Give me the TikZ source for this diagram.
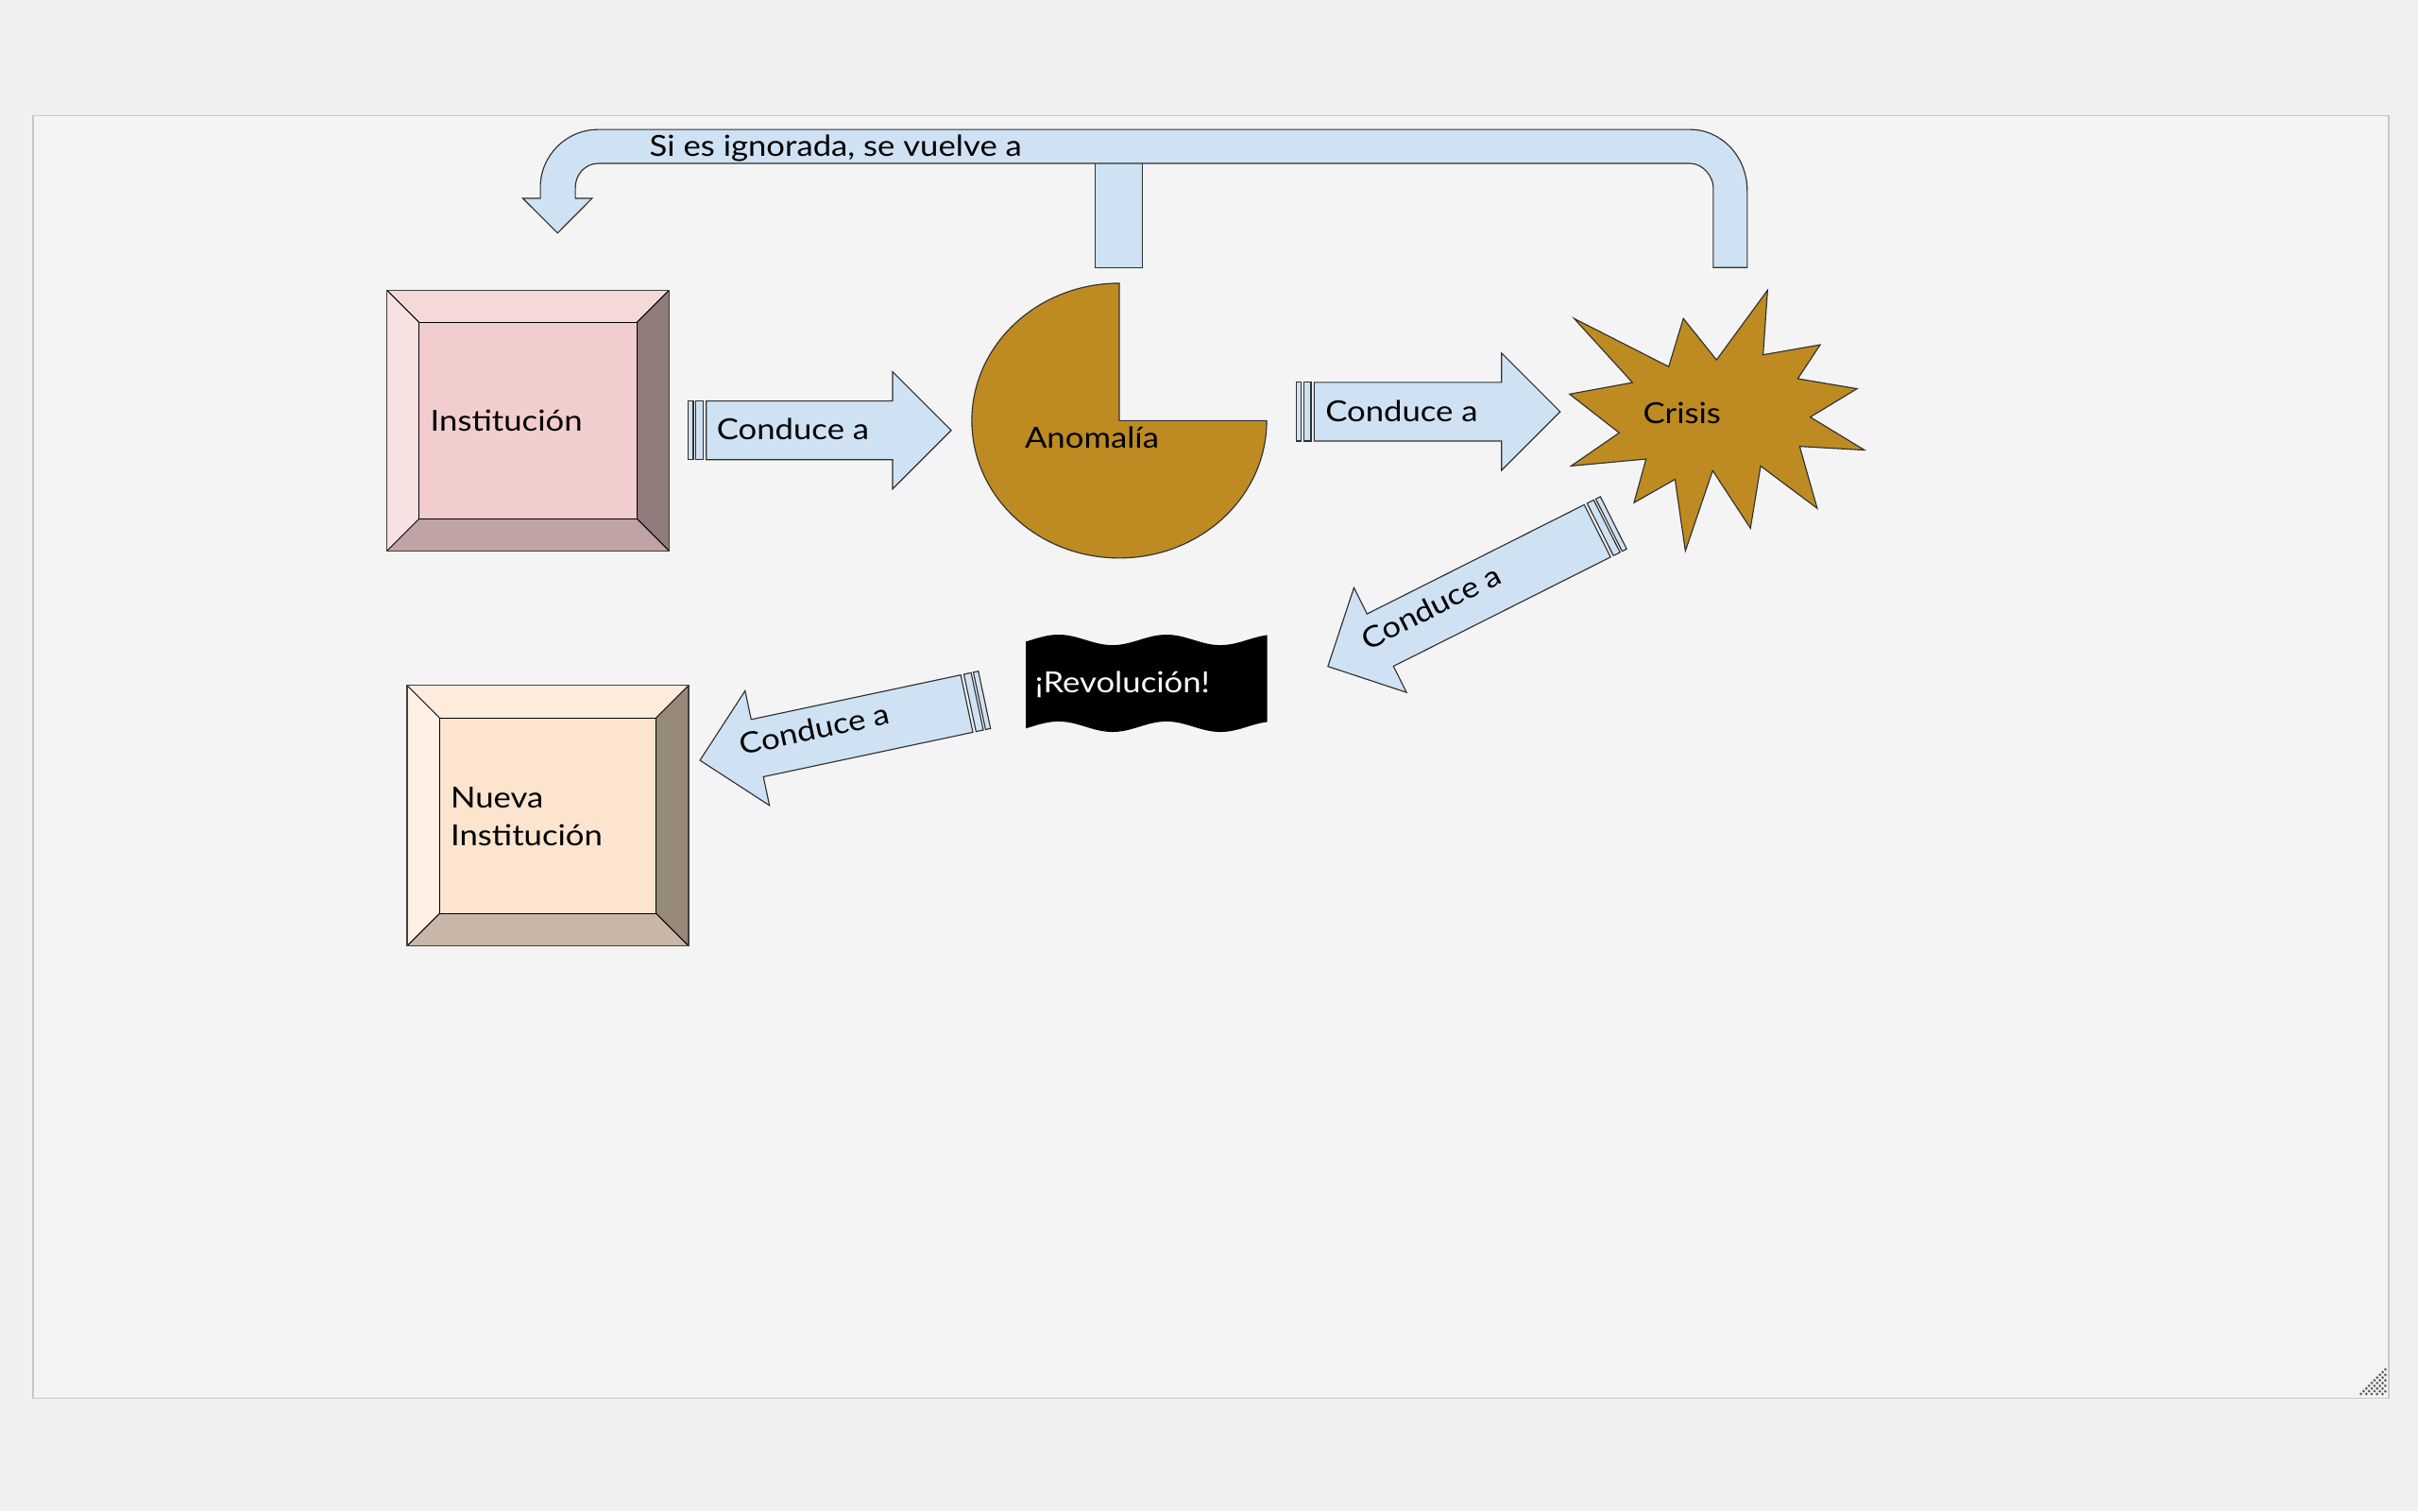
\documentclass[tikz,border=0pt]{standalone}
\usepackage{fontspec}
\setmainfont{Lato}[FakeStretch=1.13]
\usetikzlibrary{calc}

\definecolor{pagebg}{HTML}{F0F0F0}
\definecolor{panelbg}{HTML}{F4F4F4}
\definecolor{panelline}{HTML}{C8C8C8}
\definecolor{arrowfill}{HTML}{CFE2F3}
\definecolor{gold}{RGB}{189,139,34}
\definecolor{edge}{HTML}{303030}
\definecolor{gripgray}{HTML}{606060}
% bevel colours: institution
\definecolor{instTop}{RGB}{245,216,216}
\definecolor{instLeft}{RGB}{248,225,225}
\definecolor{instRight}{RGB}{142,123,122}
\definecolor{instBottom}{RGB}{192,163,164}
\definecolor{instInner}{RGB}{242,205,205}
% bevel colours: new institution
\definecolor{newTop}{RGB}{253,235,219}
\definecolor{newLeft}{RGB}{254,240,228}
\definecolor{newRight}{RGB}{150,137,122}
\definecolor{newBottom}{RGB}{200,182,166}
\definecolor{newInner}{RGB}{252,228,207}

\tikzset{
  lbl/.style={font=\fontsize{18.8pt}{24.5pt}\selectfont, inner sep=0pt, text=black},
  arrowstyle/.style={fill=arrowfill, draw=edge, line width=0.7pt, line join=miter},
  goldshape/.style={fill=gold, draw=edge, line width=0.7pt},
  bevelline/.style={draw=black, line width=0.6pt},
  grip/.style={draw=gripgray, line width=1.4pt, dash pattern=on 1.3pt off 1.2pt},
}

% bevelled square: x1,y1,x2,y2, top,left,right,bottom,inner colours
\newcommand{\bevelbox}[9]{%
  \fill[#5] (#1,#2) -- (#3,#2) -- ({#3-21},{#2+21}) -- ({#1+21},{#2+21}) -- cycle;
  \fill[#6] (#1,#2) -- ({#1+21},{#2+21}) -- ({#1+21},{#4-21}) -- (#1,#4) -- cycle;
  \fill[#7] (#3,#2) -- (#3,#4) -- ({#3-21},{#4-21}) -- ({#3-21},{#2+21}) -- cycle;
  \fill[#8] (#1,#4) -- (#3,#4) -- ({#3-21},{#4-21}) -- ({#1+21},{#4-21}) -- cycle;
  \fill[#9] ({#1+21},{#2+21}) rectangle ({#3-21},{#4-21});
  \draw[bevelline] ({#1+21},{#2+21}) rectangle ({#3-21},{#4-21});
  \draw[bevelline] (#1,#2) -- ({#1+21},{#2+21}) (#3,#2) -- ({#3-21},{#2+21})
                   (#1,#4) -- ({#1+21},{#4-21}) (#3,#4) -- ({#3-21},{#4-21});
  \draw[draw=black!75, line width=0.8pt] (#1,#2) rectangle (#3,#4);
}

% block arrow: tip point, extra transform, body length (base shape points left)
\newcommand{\blockarrow}[3]{%
  \begin{scope}[shift={(#1)}, #2]
    \draw[arrowstyle] (0,0) -- (38,-38) -- (38,-19) -- ({38+#3},-19)
      -- ({38+#3},19) -- (38,19) -- (38,38) -- cycle;
    \draw[arrowstyle] ({38+#3+2.1},-19) rectangle ({38+#3+6.9},19);
    \draw[arrowstyle] ({38+#3+8.4},-19) rectangle ({38+#3+11.7},19);
  \end{scope}}

\begin{document}
\begin{tikzpicture}[x=1pt, y=-1pt]
  \useasboundingbox (0,0) rectangle (1568,980);
  \fill[pagebg] (0,0) rectangle (1568,980);
  \filldraw[fill=panelbg, draw=panelline, line width=1pt] (21.5,75) rectangle (1548.8,906.9);

  % resize grip
  \foreach \k in {0,...,4}
    \draw[grip] ({1530.5+3.5*\k},904.5) -- (1547.3,{887.7+3.5*\k});

  % feedback arrow across the top
  \draw[arrowstyle] (710.3,104) rectangle (741,173.5);
  \draw[arrowstyle] (1133,173.5) -- (1133,123.5)
      .. controls (1133,101.7) and (1116.4,84) .. (1096,84)
      -- (388,84)
      .. controls (367.2,84) and (350.4,100.8) .. (350.4,121.5)
      -- (350.4,128.6) -- (339,128.6) -- (361.6,151.1) -- (384,128.6) -- (373.1,128.6)
      -- (373.1,121.5)
      .. controls (373.1,112.9) and (379.8,106) .. (388,106)
      -- (1096,106)
      .. controls (1104.3,106) and (1111,114.6) .. (1111,121.5)
      -- (1111,173.5) -- cycle;
  \node[lbl, anchor=base west] (loop) at (421,101.5) {Si es ignorada, se vuelve a};

  % institution
  \bevelbox{250.9}{188.2}{433.9}{357.3}{instTop}{instLeft}{instRight}{instBottom}{instInner}
  \node[lbl, anchor=base west] (inst) at (278.9,279.7) {Institución};

  % anomaly (pie with the upper right quarter cut away)
  \draw[goldshape] (725.8,183.7) arc[start angle=90, end angle=360, x radius=95.6pt, y radius=89.1pt]
      -- (725.8,272.8) -- cycle;
  \node[lbl, anchor=base west] (anom) at (664.4,290.9) {Anomalía};

  % crisis burst
  \draw[goldshape] (1020.8,206.6) -- (1082.1,237.8) -- (1091.6,206.6) -- (1113.1,233.4)
      -- (1146.2,188.2) -- (1143.3,230.1) -- (1180.3,223.6) -- (1165.8,245.6)
      -- (1204.2,252.1) -- (1173.9,270.5) -- (1209.1,291.9) -- (1167.0,289.5)
      -- (1178.4,329.7) -- (1141.7,302.2) -- (1135.1,342.6) -- (1110.6,305.2)
      -- (1092.9,357.3) -- (1086.2,310.9) -- (1059.6,326.0) -- (1067.4,297.7)
      -- (1018.8,302.2) -- (1050.0,280.7) -- (1017.8,255.6) -- (1058.6,248.1) -- cycle;
  \node[lbl, anchor=base west] (crisis) at (1065.3,274.4) {Crisis};

  % revolution flag
  \fill[black] plot[domain=665.2:821.8, samples=80] (\x,{415-3.4*cos(5.142857*(\x-686.4))})
      -- plot[domain=821.8:665.2, samples=80] (\x,{471.3-3.4*cos(5.142857*(\x-686.4))}) -- cycle;
  \node[lbl, anchor=base west, text=white] (rev) at (671,449.2) {¡Revolución!};

  % new institution
  \bevelbox{264.0}{444.5}{446.5}{613.5}{newTop}{newLeft}{newRight}{newBottom}{newInner}
  \node[lbl, anchor=base west] (nueva) at (292,524.1) {Nueva};
  \node[lbl, anchor=base west] (nuevainst) at (292,548.6) {Institución};

  % "Conduce a" arrows
  \blockarrow{616.8,279.1}{xscale=-1}{120.8}
  \node[lbl, anchor=base west] (c1) at (464.6,285.4) {Conduce a};

  \blockarrow{1011.7,267}{xscale=-1}{121.5}
  \node[lbl, anchor=base west] (c2) at (859.3,273.2) {Conduce a};

  \blockarrow{861.1,432.2}{rotate=26.7}{157.6}
  \node[lbl, anchor=mid, rotate=26.7] (c3) at (929.9,397.6) {Conduce a};

  \blockarrow{453.9,493.1}{rotate=12}{138.9}
  \node[lbl, anchor=mid, rotate=12] (c4) at (529.2,477.1) {Conduce a};
\end{tikzpicture}
\end{document}
